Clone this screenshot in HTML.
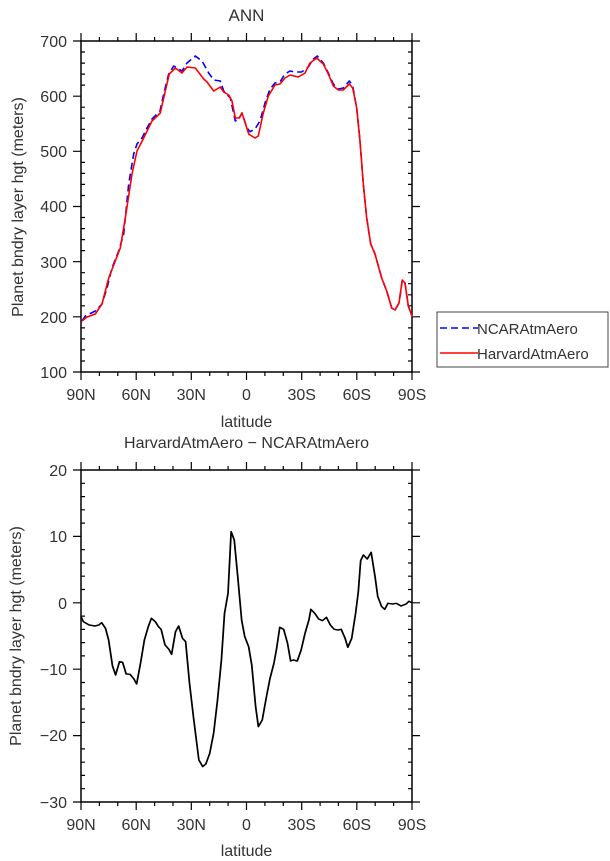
<!DOCTYPE html>
<html><head><meta charset="utf-8"><style>
html,body{margin:0;padding:0;background:#fff}
svg{display:block;font-family:"Liberation Sans",sans-serif}
text{fill:#333}
</style></head><body>
<svg width="610" height="861" viewBox="0 0 610 861" xmlns="http://www.w3.org/2000/svg">
<!-- TOP PLOT -->
<text x="246.5" y="21" font-size="17" text-anchor="middle">ANN</text>
<rect x="81" y="41" width="331" height="331" fill="none" stroke="#000" stroke-width="1.5"/>
<g stroke="#000" stroke-width="1.2">
<path d="M81 41v-8M136.2 41v-8M191.3 41v-8M246.5 41v-8M301.7 41v-8M356.8 41v-8M412 41v-8"/>
<path d="M81 372v8M136.2 372v8M191.3 372v8M246.5 372v8M301.7 372v8M356.8 372v8M412 372v8"/>
<path d="M99.4 41v-4M117.8 41v-4M154.6 41v-4M173 41v-4M209.7 41v-4M228.1 41v-4M264.9 41v-4M283.3 41v-4M320.1 41v-4M338.4 41v-4M375.2 41v-4M393.6 41v-4"/>
<path d="M99.4 372v4M117.8 372v4M154.6 372v4M173 372v4M209.7 372v4M228.1 372v4M264.9 372v4M283.3 372v4M320.1 372v4M338.4 372v4M375.2 372v4M393.6 372v4"/>
<path d="M81 41h-8M81 96.2h-8M81 151.3h-8M81 206.5h-8M81 261.7h-8M81 316.8h-8M81 372h-8"/>
<path d="M412 41h8M412 96.2h8M412 151.3h8M412 206.5h8M412 261.7h8M412 316.8h8M412 372h8"/>
<path d="M81 52h4M81 63.1h4M81 74.1h4M81 85.1h4M81 107.2h4M81 118.2h4M81 129.3h4M81 140.3h4M81 162.4h4M81 173.4h4M81 184.4h4M81 195.5h4M81 217.5h4M81 228.6h4M81 239.6h4M81 250.6h4M81 272.7h4M81 283.7h4M81 294.8h4M81 305.8h4M81 327.9h4M81 338.9h4M81 349.9h4M81 361h4"/>
<path d="M412 52h-4M412 63.1h-4M412 74.1h-4M412 85.1h-4M412 107.2h-4M412 118.2h-4M412 129.3h-4M412 140.3h-4M412 162.4h-4M412 173.4h-4M412 184.4h-4M412 195.5h-4M412 217.5h-4M412 228.6h-4M412 239.6h-4M412 250.6h-4M412 272.7h-4M412 283.7h-4M412 294.8h-4M412 305.8h-4M412 327.9h-4M412 338.9h-4M412 349.9h-4M412 361h-4"/>
</g>
<g font-size="16" text-anchor="end">
<text x="67" y="47">700</text><text x="67" y="102">600</text><text x="67" y="157">500</text>
<text x="67" y="212">400</text><text x="67" y="268">300</text><text x="67" y="323">200</text><text x="67" y="378">100</text>
</g>
<g font-size="16" text-anchor="middle">
<text x="81" y="400">90N</text><text x="136.2" y="400">60N</text><text x="191.3" y="400">30N</text><text x="246.5" y="400">0</text>
<text x="301.7" y="400">30S</text><text x="356.8" y="400">60S</text><text x="412" y="400">90S</text>
<text x="246.5" y="427">latitude</text>
</g>
<text transform="translate(23,207) rotate(-90)" font-size="16" text-anchor="middle">Planet bndry layer hgt (meters)</text>
<g fill="none" stroke-width="1.6" stroke-linejoin="round">
<polyline stroke="#0000ff" stroke-dasharray="7,4" points="82,321 85.3,316 95.3,311 102,304 107,288 112,268 118.7,251 123.7,234 128.7,184 133.7,154 137,144 142,138 147,128 152,119 160,111 163.7,94 168.7,74 173.7,66 178.7,69 182,71 187,63 195.3,56 202,61 208.7,73 213.7,80 220.3,81 223.7,91 230.3,98 235.3,121 238.7,119 242,113 247,128 250,131.7 255,129 260,121 265,103 270,89 275,83 280,82 285,74 290,71 295,72 301.7,72 308.3,67 313.3,59 317.3,56 323.3,63 328.3,73 333.3,84 338.3,89 343.3,88 349.3,81 352.7,86 356.7,108 360,141 363.3,184 366.7,218 370.7,244 375,254 381.7,278 386.7,291 391.7,308 395,310 399,303 402.3,280 405,283 408.3,306 412.3,317"/>
<polyline stroke="#ff0000" points="82,321 87,317 95.3,314 102,304 108.7,278 120.3,248 125.3,218 132,174 137,151 143.7,138 152,121 160.3,113 165.3,91 169.3,74 175.3,68 182,73 187,67 195.3,68 203.7,79 207,82 213.7,91 220.3,87 223.7,92 228.7,95 232,101 235.3,118 239.3,118 242,113 248.7,134 250,135 255,138 258.3,136 263.3,113 268.3,96 275,85 280,84 285,78 290,75 298.3,77 305,73 310,63 316.7,58 323.3,64 328.3,74 333.3,86 338.3,90 343.3,90 349.3,84 352.7,88 356.7,108 360,141 363.3,184 366.7,218 370.7,244 375,254 381.7,278 386.7,291 391.7,308 395,310 399,303 402.3,280 405,283 408.3,306 412.3,317"/>
</g>
<!-- legend -->
<rect x="437" y="312" width="171" height="55" fill="#fff" stroke="#444" stroke-width="1"/>
<line x1="440" y1="328" x2="478" y2="328" stroke="#0000ff" stroke-width="1.5" stroke-dasharray="7,4"/>
<line x1="440" y1="353" x2="478" y2="353" stroke="#ff0000" stroke-width="1.5"/>
<text x="477" y="334" font-size="15">NCARAtmAero</text>
<text x="477" y="359" font-size="15">HarvardAtmAero</text>

<!-- BOTTOM PLOT -->
<text x="246.5" y="448" font-size="16" text-anchor="middle">HarvardAtmAero − NCARAtmAero</text>
<rect x="81" y="470" width="331" height="332" fill="none" stroke="#000" stroke-width="1.5"/>
<g stroke="#000" stroke-width="1.2">
<path d="M81 470v-8M136.2 470v-8M191.3 470v-8M246.5 470v-8M301.7 470v-8M356.8 470v-8M412 470v-8"/>
<path d="M81 802v8M136.2 802v8M191.3 802v8M246.5 802v8M301.7 802v8M356.8 802v8M412 802v8"/>
<path d="M99.4 470v-4M117.8 470v-4M154.6 470v-4M173 470v-4M209.7 470v-4M228.1 470v-4M264.9 470v-4M283.3 470v-4M320.1 470v-4M338.4 470v-4M375.2 470v-4M393.6 470v-4"/>
<path d="M99.4 802v4M117.8 802v4M154.6 802v4M173 802v4M209.7 802v4M228.1 802v4M264.9 802v4M283.3 802v4M320.1 802v4M338.4 802v4M375.2 802v4M393.6 802v4"/>
<path d="M81 470h-8M81 536.4h-8M81 602.8h-8M81 669.2h-8M81 735.6h-8M81 802h-8"/>
<path d="M412 470h8M412 536.4h8M412 602.8h8M412 669.2h8M412 735.6h8M412 802h8"/>
<path d="M81 483.3h4M81 496.6h4M81 509.8h4M81 523.1h4M81 549.7h4M81 563h4M81 576.2h4M81 589.5h4M81 616.1h4M81 629.4h4M81 642.6h4M81 655.9h4M81 682.5h4M81 695.8h4M81 709h4M81 722.3h4M81 748.9h4M81 762.2h4M81 775.4h4M81 788.7h4"/>
<path d="M412 483.3h-4M412 496.6h-4M412 509.8h-4M412 523.1h-4M412 549.7h-4M412 563h-4M412 576.2h-4M412 589.5h-4M412 616.1h-4M412 629.4h-4M412 642.6h-4M412 655.9h-4M412 682.5h-4M412 695.8h-4M412 709h-4M412 722.3h-4M412 748.9h-4M412 762.2h-4M412 775.4h-4M412 788.7h-4"/>
</g>
<g font-size="16" text-anchor="end">
<text x="67" y="476">20</text><text x="67" y="542">10</text><text x="67" y="609">0</text>
<text x="67" y="675">−10</text><text x="67" y="741">−20</text><text x="67" y="808">−30</text>
</g>
<g font-size="16" text-anchor="middle">
<text x="81" y="830">90N</text><text x="136.2" y="830">60N</text><text x="191.3" y="830">30N</text><text x="246.5" y="830">0</text>
<text x="301.7" y="830">30S</text><text x="356.8" y="830">60S</text><text x="412" y="830">90S</text>
<text x="246.5" y="856">latitude</text>
</g>
<text transform="translate(21,636) rotate(-90)" font-size="16" text-anchor="middle">Planet bndry layer hgt (meters)</text>
<g transform="translate(-0.29,430) scale(0.38895,0.3333)" fill="none" stroke="#000" stroke-width="4.5" stroke-linejoin="round">
<polyline points="209,560 215,575 230,585 245,588 255,585 262,578 272,595 280,630 290,708 298,735 308,695 316,697 325,732 335,733 345,747 352,762 362,700 372,630 382,590 390,565 400,575 408,590 415,598 425,645 435,658 442,673 452,605 460,588 470,625 478,635 488,760 498,860 512,990 522,1010 530,1002 540,970 550,910 560,810 570,690 578,550 587,490 595,305 603,330 612,440 622,570 630,620 640,650 648,705 658,830 665,890 675,870 685,805 695,745 705,700 712,655 720,592 730,598 740,640 748,693 755,690 765,693 775,660 785,610 795,570 800,538 810,550 820,567 830,572 840,562 850,585 860,598 870,600 878,598 888,625 895,652 905,625 915,550 922,485 928,392 935,375 945,387 955,367 965,440 972,500 982,530 990,538 998,520 1010,522 1020,520 1032,528 1045,522 1052,514 1060,518"/>
</g>
</svg>
</body></html>
